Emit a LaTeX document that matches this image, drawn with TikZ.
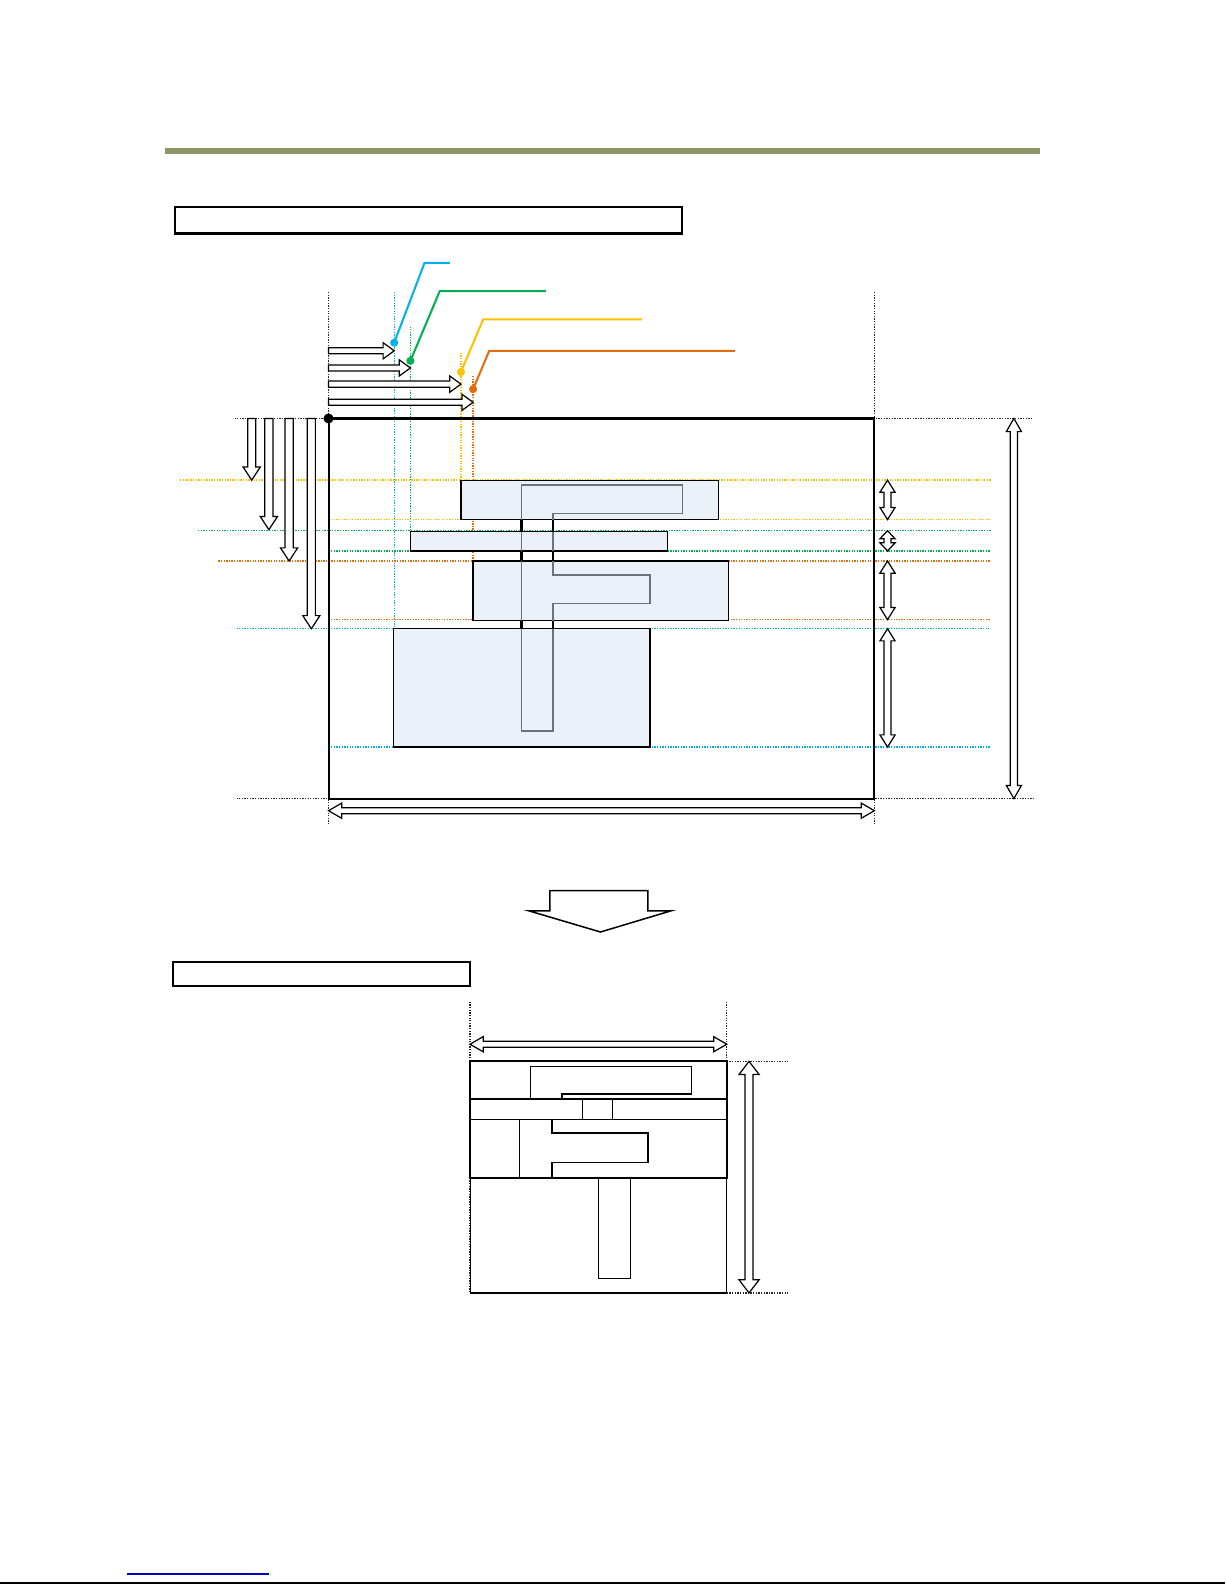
\documentclass[tikz,border=0pt]{standalone}
\usepackage{tikz}
\definecolor{olive}{HTML}{8C9669}
\definecolor{cblue}{HTML}{00B0F0}
\definecolor{cgreen}{HTML}{00B050}
\definecolor{cyellow}{HTML}{FFC000}
\definecolor{corange}{HTML}{E46C0A}
\definecolor{boxfill}{HTML}{ECF0F8}
\definecolor{fgray}{HTML}{6D737C}
\definecolor{linkblue}{HTML}{0000CC}
\tikzset{
  blk/.style={draw=black, fill=white, line width=0.6pt, line join=miter},
  dots/.style={line width=0.65pt, dash pattern=on 0.65pt off 0.65pt},
  dk/.style={dots, black!85},
  dblue/.style={dots, cblue},
  dgreen/.style={dots, cgreen},
  dyellow/.style={dots, cyellow},
  dorange/.style={dots, corange},
  lbox/.style={draw=black, fill=boxfill, line width=0.6pt},
  leader/.style={line width=1pt},
  frame/.style={draw=black, line width=1pt},
}
% right-pointing arrow: x1, x2, y
\newcommand\ArrR[3]{\draw[blk] (#1,#3-3)--(#2-11,#3-3)--(#2-11,#3-8)--(#2,#3)--(#2-11,#3+8)--(#2-11,#3+3)--(#1,#3+3)--cycle;}
% down-pointing arrow: x, y1, y2
\newcommand\ArrD[3]{\draw[blk] (#1-4,#2)--(#1-4,#3-13)--(#1-8.5,#3-13)--(#1,#3)--(#1+8.5,#3-13)--(#1+4,#3-13)--(#1+4,#2)--cycle;}
% double vertical arrow: [head length] x, y1, y2
\newcommand\ArrV[4][12]{\draw[blk] (#2,#3)--(#2+7.5,#3+#1)--(#2+3.5,#3+#1)--(#2+3.5,#4-#1)--(#2+7.5,#4-#1)--(#2,#4)--(#2-7.5,#4-#1)--(#2-3.5,#4-#1)--(#2-3.5,#3+#1)--(#2-7.5,#3+#1)--cycle;}
% double horizontal arrow: y, x1, x2
\newcommand\ArrH[3]{\draw[blk] (#2,#1)--(#2+13,#1-7.5)--(#2+13,#1-3)--(#3-13,#1-3)--(#3-13,#1-7.5)--(#3,#1)--(#3-13,#1+7.5)--(#3-13,#1+3)--(#2+13,#1+3)--(#2+13,#1+7.5)--cycle;}
\begin{document}
\begin{tikzpicture}[x=0.5pt,y=-0.5pt]
\useasboundingbox (0,0) rectangle (1212,1568);
\fill[white] (0,0) rectangle (1212,1568);

% header bar
\fill[olive] (163,146.5) rectangle (1029,152.5);
% title box 1
\draw[frame] (173,205) rectangle (675,231);

% ---------- upper figure ----------
% black dotted guides
\draw[dk] (325,289) -- (325,816);
\draw[dk] (865,289) -- (865,816);
\draw[dk] (232,414) -- (1022,414);
\draw[dk] (234,790) -- (1022,790);

% coloured vertical guides
\draw[dblue] (390,289) -- (390,739);
\draw[dgreen] (406,323) -- (406,526);
\draw[dyellow] (456,349) -- (456,475);
\draw[dorange] (468,372) -- (468,614);

% coloured horizontal guides
\draw[dyellow] (178,475) -- (980,475);
\draw[dyellow] (325,514) -- (980,514);
\draw[dgreen] (196,525) -- (980,525);
\draw[dgreen] (325,545) -- (980,545);
\draw[dorange] (216,555) -- (980,555);
\draw[dorange] (325,613) -- (980,613);
\draw[dblue] (234,622) -- (978,622);
\draw[dblue] (325,739) -- (980,739);

% main frame
\draw[frame] (325,414) coordinate (origin) rectangle (865,790);
\fill (origin) circle (5);

% layer boxes
\draw[lbox] (456,475) rectangle (711,514);
\draw[lbox] (406,526) rectangle (660,545);
\draw[lbox] (468,555) rectangle (721,614);
\draw[lbox] (389,622) rectangle (643,739);

% F shape
\draw[fgray, line width=0.8pt, line join=miter] (516,480)--(675,480)--(675,508)--(547,508)--(547,569)--(643,569)--(643,597)--(547,597)--(547,723)--(516,723)--cycle;
\foreach \a/\b in {514/526, 545/555, 614/622}{
  \draw[black, line width=1.1pt] (516,\a) -- (516,\b);
  \draw[black, line width=0.6pt] (547,\a) -- (547,\b);
}

% right-pointing arrows
\ArrR{325}{390}{347}
\ArrR{325}{406}{364}
\ArrR{325}{456}{380}
\ArrR{325}{468}{398}

% leaders
\draw[leader, cblue] (390,339) -- (420,260) -- (445,260);
\fill[cblue] (390,339) circle (4);
\draw[leader, cgreen] (406,357) -- (435,288) -- (540,288);
\fill[cgreen] (406,357) circle (4);
\draw[leader, cyellow] (456,368) -- (478,316) -- (635,316);
\fill[cyellow] (456,368) circle (4);
\draw[leader, corange] (468,385) -- (484,347) -- (727,347);
\fill[corange] (468,385) circle (4);

% down arrows
\ArrD{249}{414}{475}
\ArrD{266}{414}{524}
\ArrD{286}{414}{555}
\ArrD{308}{414}{622}

% right double arrows
\ArrV{878}{475}{514}
\ArrV[8]{878}{525}{545}
\ArrV{878}{555}{613}
\ArrV{878}{622}{739}
\ArrV[13]{1003}{414}{790}

% bottom width arrow
\ArrH{802}{325}{865}

% transition arrow
\draw[blk, line width=0.75pt] (544,881)--(641,881)--(641,901)--(664,901)--(594,922)--(523,901)--(544,901)--cycle;

% title box 2
\draw[frame] (171,952) rectangle (465,975);

% ---------- lower figure ----------
\draw[dk] (465,991) -- (465,1279);
\draw[dk] (719,991) -- (719,1279);
\draw[dk] (719,1050) -- (780,1050);
\draw[dk] (719,1279) -- (780,1279);
\ArrH{1033}{465}{719}
\draw[blk] (741,1050)--(751,1063)--(745,1063)--(745,1266)--(751,1266)--(741,1279)--(731,1266)--(737,1266)--(737,1063)--(731,1063)--cycle;

\draw[black, line width=0.5pt] (465,1165) -- (465,1279);
\draw[black, line width=0.5pt] (719,1165) -- (719,1279);
\draw[black, line width=1pt] (465,1279) -- (719,1279);
\draw[frame] (465,1050) rectangle (719,1165);
\draw[black, line width=1pt] (465,1087) -- (719,1087);
\draw[black, line width=0.5pt] (465,1107) -- (719,1107);

\draw[black, line width=0.75pt, line join=miter] (525,1087)--(525,1055)--(684,1055)--(684,1082)--(556,1082)--(556,1087);
\draw[black, line width=0.5pt] (576,1087) -- (576,1107);
\draw[black, line width=0.8pt] (606,1087) -- (606,1107);
\draw[black, line width=0.5pt] (514,1107) -- (514,1165);
\draw[black, line width=0.8pt, line join=miter] (546,1107)--(546,1121)--(641,1121)--(641,1150)--(546,1150)--(546,1165);
\draw[black, line width=0.5pt] (592,1165) rectangle (624,1265);

% footer
\draw[linkblue, line width=0.6pt] (126,1557) -- (266,1557);
\draw[black, line width=0.8pt] (0,1566) -- (1212,1566);
\end{tikzpicture}
\end{document}
